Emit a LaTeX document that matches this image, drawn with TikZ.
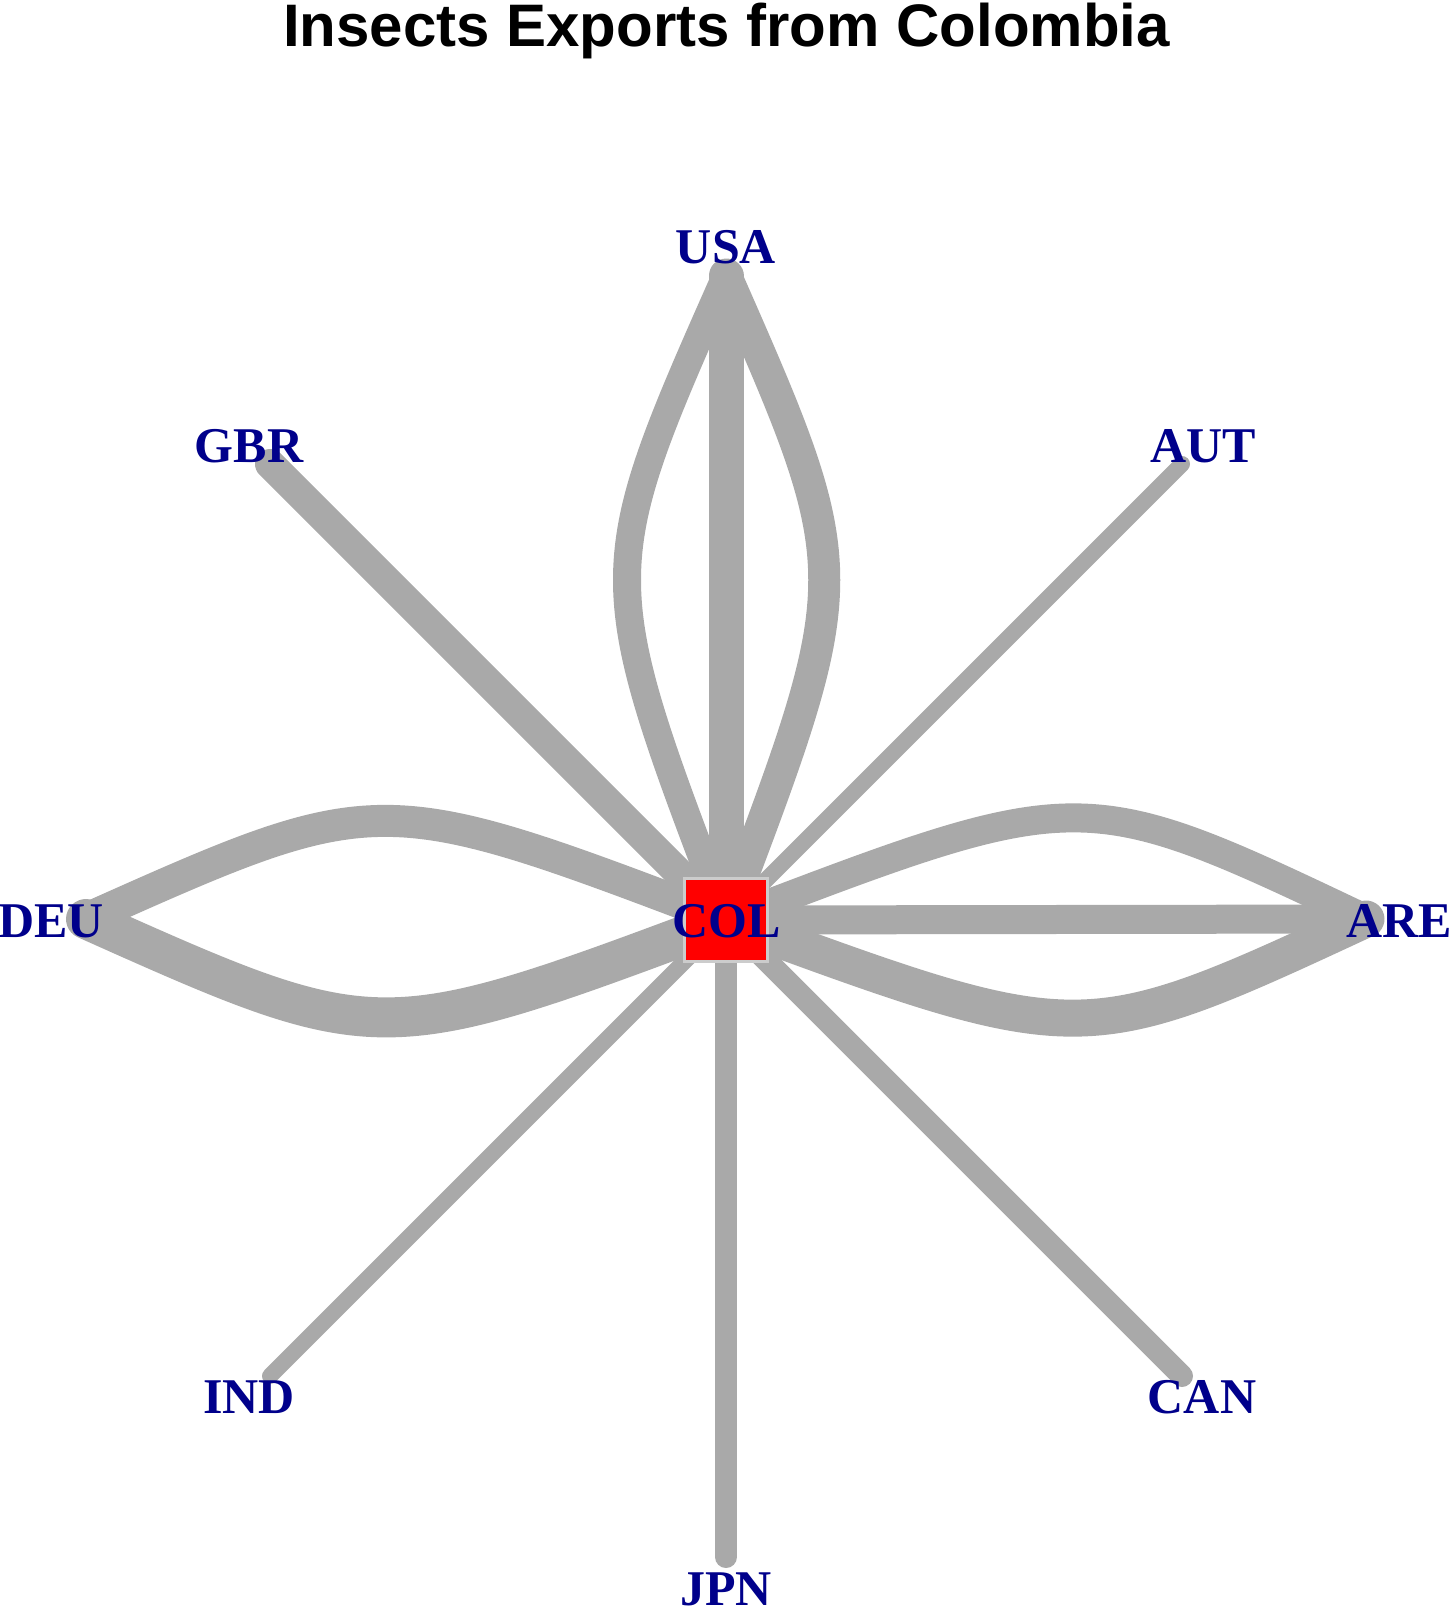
\documentclass[tikz,border=0pt]{standalone}
\usepackage{fontspec}
\setmainfont{Liberation Serif}
\newfontfamily\titlefont{Liberation Sans}
\usepackage{xcolor}
\usepackage{tikz}

\definecolor{edgegray}{HTML}{A9A9A9}
\definecolor{labelblue}{HTML}{00008B}

\tikzset{
  flow/.style={draw=edgegray, line cap=round},
  lbl/.style={text=labelblue, anchor=base, inner sep=0pt,
              font=\fontsize{25}{25}\selectfont\bfseries},
}

\begin{document}
\begin{tikzpicture}[x=0.5pt,y=-0.5pt]

            \useasboundingbox (0,0) rectangle (1453,1614);

            % 标题
            \node[anchor=base, inner sep=0pt,
                  font=\titlefont\bfseries\fontsize{30}{30}\selectfont]
            (title) at (726.5,46) {Insects Exports from Colombia};

            % 节点位置
            \coordinate (col) at (726,920);
            \coordinate (usa) at (726,276);
            \coordinate (jpn) at (726,1557);
            \coordinate (deu) at (86,919);
            \coordinate (are) at (1366,919);
            \coordinate (gbr) at (270,464);
            \coordinate (aut) at (1182,464);
            \coordinate (ind) at (270,1376);
            \coordinate (can) at (1182,1376);

            % 直线边
            \draw[flow, line width=17.5pt] (col) -- (usa);
            \draw[flow, line width=11pt] (col) -- (jpn);
            \draw[flow, line width=14.5pt] (col) -- (are);
            \draw[flow, line width=15pt] (col) -- (gbr);
            \draw[flow, line width=8pt] (col) -- (aut);
            \draw[flow, line width=8pt] (col) -- (ind);
            \draw[flow, line width=11pt] (col) -- (can);

            % 曲线边
            \draw[flow, line width=14pt] (col) .. controls (594,574) .. (usa);
            \draw[flow, line width=16pt] (col) .. controls (857,574) .. (usa);
            \draw[flow, line width=16pt] (col) .. controls (379,788) .. (deu);
            \draw[flow, line width=20pt] (col) .. controls (379,1050) .. (deu);
            \draw[flow, line width=14.5pt] (col) .. controls (1082,784) .. (are);
            \draw[flow, line width=18.5pt] (col) .. controls (1082,1051) .. (are);

            % 中心节点
            \node[draw=gray!40, line width=1.5pt, fill=red,
                  minimum size=41.5pt, inner sep=0pt] (colbox) at (col) {};

            % 标签
            \node[lbl] (col-l) at (727,937) {COL};
            \node[lbl] (usa-l) at (726,263) {USA};
            \node[lbl] (jpn-l) at (726,1605) {JPN};
            \node[lbl] (deu-l) at (51,937) {DEU};
            \node[lbl] (are-l) at (1399,937) {ARE};
            \node[lbl] (gbr-l) at (249,462) {GBR};
            \node[lbl] (aut-l) at (1203,462) {AUT};
            \node[lbl] (ind-l) at (249,1413) {IND};
            \node[lbl] (can-l) at (1202,1413) {CAN};

        \end{tikzpicture}
\end{document}
